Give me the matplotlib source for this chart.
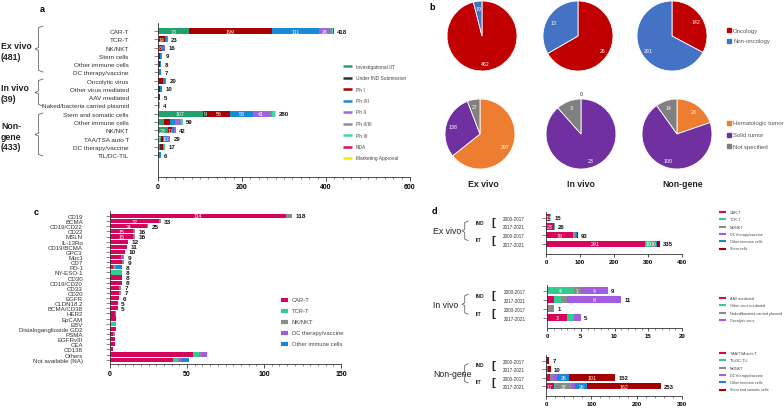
import matplotlib
matplotlib.use('Agg')
import matplotlib.pyplot as plt
from matplotlib.lines import Line2D
from matplotlib.ticker import MultipleLocator
import numpy as np

plt.rcParams['font.family'] = ['Liberation Sans', 'DejaVu Sans']

W, H = 784, 410

# ---------------- data: panel a (development stage by product type) ----------------
a_cats = ['CAR-T', 'TCR-T', 'NK/NKT', 'Stem cells', 'Other immune cells', 'DC therapy/vaccine',
          'Oncolytic virus', 'Other virus mediated', 'AAV mediated', 'Naked/bacteria carried plasmid',
          'Stem and somatic cells', 'Other immune cells', 'NK/NKT', 'TAA/TSA auto T',
          'DC therapy/vaccine', 'TIL/DC-TIL']
a_stages = ['Investigational IIT', 'Under IND Submission', 'Ph I', 'Ph I/II', 'Ph II',
            'Ph II/III', 'Ph III', 'NDA', 'Marketing Approval']
a_iit = [73, 2, 1, 0, 1, 0, 1, 0, 0, 0, 107, 14, 23, 7, 5, 1]
a_ind = [0, 0, 0, 0, 0, 0, 3, 2, 2, 0, 9, 0, 0, 0, 2, 2]
a_ph1 = [199, 14, 8, 4, 3, 3, 7, 3, 3, 0, 56, 14, 11, 6, 4, 0]
a_ph12 = [111, 6, 6, 4, 4, 4, 5, 4, 0, 0, 53, 13, 5, 10, 2, 3]
a_ph2 = [26, 1, 1, 1, 0, 0, 2, 1, 0, 0, 41, 11, 3, 6, 1, 0]
a_ph23 = [5, 0, 0, 0, 0, 0, 0, 0, 0, 0, 6, 3, 0, 0, 0, 0]
a_ph3 = [2, 0, 0, 0, 0, 0, 1, 0, 0, 4, 6, 4, 0, 0, 3, 0]
a_nda = [2, 0, 0, 0, 0, 0, 0, 0, 0, 0, 1, 0, 0, 0, 0, 0]
a_appr = [0, 0, 0, 0, 0, 0, 1, 0, 0, 0, 1, 0, 0, 0, 0, 0]
a_groups = ['Ex vivo\n(481)', 'In vivo\n(39)', 'Non-\ngene\n(433)']

# ---------------- data: panel b (pies) ----------------
onc_labels = ['Oncology', 'Non-oncology']
onc_ex = [462, 19]
onc_in = [26, 13]
onc_ng = [142, 291]
tum_labels = ['Hematologic tumor', 'Solid tumor', 'Not specified']
tum_ex = [297, 138, 27]
tum_in = [0, 23, 3]
tum_ng = [28, 100, 14]
pie_titles = ['Ex vivo', 'In vivo', 'Non-gene']

# ---------------- data: panel c (targets) ----------------
c_targets = ['CD19', 'BCMA', 'CD19/CD22', 'CD22', 'MSLN', 'IL-13Rα', 'CD19/BCMA', 'GPC3', 'Muc1',
             'CD7', 'PD-1', 'NY-ESO-1', 'CD30', 'CD19/CD20', 'CD33', 'CD20', 'EGFR', 'CLDN18.2',
             'BCMA/CD38', 'HER2', 'EpCAM', 'EBV', 'Disialoganglioside GD2', 'PSMA', 'EGFRvIII',
             'CEA', 'CD138', 'Others', 'Not available (NA)']
c_types = ['CAR-T', 'TCR-T', 'NK/NKT', 'DC therapy/vaccine', 'Other immune cells']
c_cart = [114, 32, 24, 15, 15, 12, 11, 10, 7, 8, 2, 0, 8, 8, 6, 6, 6, 5, 5, 3, 4, 0, 4, 2, 3, 3, 2, 54, 41]
c_tcrt = [0, 0, 0, 0, 0, 0, 0, 0, 0, 0, 0, 8, 0, 0, 0, 0, 0, 0, 0, 0, 0, 4, 0, 0, 0, 0, 0, 4, 3]
c_nk = [4, 1, 1, 1, 1, 0, 0, 0, 1, 1, 2, 0, 0, 0, 1, 1, 0, 0, 0, 0, 0, 0, 0, 1, 0, 0, 0, 2, 1]
c_dc = [0, 0, 0, 0, 0, 0, 0, 0, 1, 0, 0, 0, 0, 0, 0, 0, 0, 0, 0, 1, 0, 0, 0, 0, 0, 0, 0, 3, 2]
c_other = [0, 0, 0, 0, 0, 0, 0, 0, 0, 0, 4, 0, 0, 0, 0, 0, 0, 0, 0, 0, 0, 0, 0, 0, 0, 0, 0, 0, 4]
c_n_totals = 19  # rows that carry a total label

# ---------------- data: panel d (IND / IIT by period) ----------------
d_periods = ['2000-2017', '2017-2021', '2000-2017', '2017-2021']
ex_types = ['CAR-T', 'TCR-T', 'NK/NKT', 'DC therapy/vaccine', 'Other immune cells', 'Stem cells']
ex_cart = [13, 23, 79, 291]
ex_tcrt = [1, 3, 2, 19]
ex_nk = [0, 0, 5, 10]
ex_dc = [0, 0, 1, 2]
ex_other = [1, 0, 5, 5]
ex_stem = [0, 0, 1, 8]
iv_types = ['AAV mediated', 'Other virus mediated', 'Naked/bacteria carried plasmid', 'Oncolytic virus']
iv_aav = [0, 1, 0, 3]
iv_virus = [4, 1, 0, 1]
iv_naked = [1, 1, 1, 0]
iv_onco = [4, 8, 0, 1]
ng_types = ['TAA/TSA auto T', 'TIL/DC-TIL', 'NK/NKT', 'DC therapy/vaccine', 'Other immune cells',
            'Stem and somatic cells']
ng_taa = [1, 0, 8, 17]
ng_til = [0, 0, 1, 3]
ng_nk = [0, 0, 7, 37]
ng_dc = [1, 0, 9, 8]
ng_other = [0, 4, 26, 26]
ng_stem = [5, 6, 101, 162]

# colours
a_colors = ['#22a06e', '#333333', '#a60000', '#1a8ad4', '#a064e0', '#8c8c8c', '#3fd9a0', '#d1106b', '#f2ee00']
MAG, TEAL, GRAY, PURP, BLUE, DRED = '#d6045c', '#33cc8f', '#8a8a8a', '#a15ce0', '#1a86d4', '#a50000'
onc_colors = ['#c00000', '#4472c4']
tum_colors = ['#ed7d31', '#7030a0', '#808080']

fig = plt.figure(figsize=(W / 100, H / 100), dpi=100)


def px_box(x0, y0, x1, y1):
    return [x0 / W, 1 - y1 / H, (x1 - x0) / W, (y1 - y0) / H]


def fxy(x, y):
    return x / W, 1 - y / H


def stacked(ax, series, colors, height, inner, n_tot, tot_fs, in_fs):
    n = len(series[0])
    y = np.arange(n)
    left = np.zeros(n)
    for vals, c in zip(series, colors):
        vals = np.array(vals, float)
        ax.barh(y, vals, left=left, height=height, color=c, linewidth=0)
        for i, v in enumerate(vals):
            if v > 0 and inner(i, v):
                ax.text(left[i] + v / 2, i, str(int(v)), ha='center', va='center',
                        color='white', fontsize=in_fs)
        left += vals
    for i in range(n_tot):
        ax.annotate(str(int(left[i])), (left[i], i), xytext=(2.5, 0), textcoords='offset points',
                    ha='left', va='center', fontsize=tot_fs, fontweight='bold', color='#111')
    return left


def style(ax, labels, xmax, major, minor, pad, lab_fs, tick_fs, tick_len=3):
    ax.set_xlim(0, xmax)
    ax.set_yticks(np.arange(len(labels)))
    ax.set_yticklabels(labels)
    for s in ['top', 'right']:
        ax.spines[s].set_visible(False)
    for s in ['left', 'bottom']:
        ax.spines[s].set_linewidth(0.6)
        ax.spines[s].set_color('#333')
    ax.xaxis.set_major_locator(MultipleLocator(major))
    ax.xaxis.set_minor_locator(MultipleLocator(minor))
    ax.tick_params(axis='y', length=3, width=0.5, pad=pad, labelsize=lab_fs, labelcolor='#333', color='#555')
    ax.tick_params(axis='x', which='major', length=tick_len, width=0.6, labelsize=tick_fs, pad=1.2, color='#333')
    ax.tick_params(axis='x', which='minor', length=tick_len / 2, width=0.4, color='#333')
    for t in ax.get_xticklabels():
        t.set_fontweight('bold')


def brace(x, y0, y1, w, ym=None):
    if ym is None:
        ym = (y0 + y1) / 2
    xs = [x + w, x + w * 0.45, x + w * 0.45, x, x + w * 0.45, x + w * 0.45, x + w]
    ys = [y0, y0 + 1.5, ym - 1.5, ym, ym + 1.5, y1 - 1.5, y1]
    pts = [fxy(a, b) for a, b in zip(xs, ys)]
    fig.add_artist(Line2D([p[0] for p in pts], [p[1] for p in pts], transform=fig.transFigure,
                          color='#666', lw=0.6))


def legend_lines(x, y0, dy, labels, colors, fs, hw=9, lw=1.8, square=False):
    for k, (lab, c) in enumerate(zip(labels, colors)):
        y = y0 + k * dy
        if square:
            fig.add_artist(Line2D([fxy(x, y)[0]], [fxy(x, y)[1]], marker='s', ms=2.3, color=c,
                                  lw=0, transform=fig.transFigure))
            fig.text(*fxy(x + 4, y), lab, fontsize=fs, color='#555', va='center', ha='left')
        else:
            (xa, ya), (xb, _) = fxy(x, y), fxy(x + hw, y)
            fig.add_artist(Line2D([xa, xb], [ya, ya], color=c, lw=lw, transform=fig.transFigure,
                                  solid_capstyle='butt'))
            fig.text(*fxy(x + hw + 4, y), lab, fontsize=fs, color='#444', va='center', ha='left')


# ================= panel a =================
ax_a = fig.add_axes(px_box(158, 24, 410, 178))
a_series = [a_iit, a_ind, a_ph1, a_ph12, a_ph2, a_ph23, a_ph3, a_nda, a_appr]
a_inner_rows = {0, 1, 2, 10, 12, 13}
stacked(ax_a, a_series, a_colors, 0.72, lambda i, v: i in a_inner_rows and v >= 7,
        len(a_cats), 4.3, 3.8)
style(ax_a, a_cats, 600, 200, 20, 18, 4.6, 5)
ax_a.set_ylim(17.65, -0.97)
legend_lines(343, 67, 11.5, a_stages, a_colors, 3.5)
fig.text(*fxy(40, 10), 'a', fontsize=6.5, fontweight='bold', va='center')

for txt, y in zip(a_groups, [52, 94, 137]):
    fig.text(*fxy(1, y), txt, fontsize=6.3, fontweight='bold', va='center', ha='left',
             linespacing=1.25, color='#222')
brace(35, 27, 73, 8)
brace(35, 80, 107, 8)
brace(35, 114, 157, 8)

# ================= panel b =================
fig.text(*fxy(429, 8), 'b', fontsize=6.5, fontweight='bold', va='center')


def pie_at(cx, cy, r, vals, colors):
    ax = fig.add_axes(px_box(cx - r, cy - r, cx + r, cy + r))
    wedges, _ = ax.pie(vals, colors=colors, startangle=90, counterclock=False, radius=1,
                       wedgeprops=dict(edgecolor='white', linewidth=0.6))
    for w, v in zip(wedges, vals):
        ang = np.deg2rad((w.theta1 + w.theta2) / 2)
        if v == 0:
            ax.text(0, 1.16, '0', ha='center', va='center', fontsize=4, color='#333')
        else:
            ax.text(0.8 * np.cos(ang), 0.8 * np.sin(ang), str(v), ha='center', va='center',
                    fontsize=3.8, color='white')
    ax.set_xlim(-1, 1)
    ax.set_ylim(-1, 1)
    ax.axis('off')


for (cx, cy), vals in zip([(482, 37), (578, 37), (672, 37)], [onc_ex, onc_in, onc_ng]):
    pie_at(cx, cy, 35, vals, onc_colors)
for (cx, cy), vals in zip([(480, 135), (581, 135), (677, 135)], [tum_ex, tum_in, tum_ng]):
    pie_at(cx, cy, 35, vals, tum_colors)
for x, t in zip([483, 581, 683], pie_titles):
    fig.text(*fxy(x, 185), t, fontsize=6.3, fontweight='bold', ha='center', va='center', color='#222')
legend_lines(729, 31, 10.5, onc_labels, onc_colors, 4.3, square=True)
legend_lines(729, 124, 11.5, tum_labels, tum_colors, 4.3, square=True)

# ================= panel c =================
ax_c = fig.add_axes(px_box(110, 212, 341, 365))
c_colors = [MAG, TEAL, GRAY, PURP, BLUE]
stacked(ax_c, [c_cart, c_tcrt, c_nk, c_dc, c_other], c_colors, 0.82,
        lambda i, v: i < c_n_totals and v >= 15, c_n_totals, 4.6, 3.8)
style(ax_c, c_targets, 150, 50, 5, 16.5, 4.4, 5)
ax_c.set_ylim(28.85, -0.97)
fig.text(*fxy(34, 213), 'c', fontsize=6.5, fontweight='bold', va='center')
legend_lines(281, 301, 11, c_types, c_colors, 4.2, hw=7, lw=3)

# ================= panel d =================
fig.text(*fxy(432, 212), 'd', fontsize=6.5, fontweight='bold', va='center')
d_cols6 = [MAG, TEAL, GRAY, PURP, BLUE, DRED]
d_specs = [
    # box, xmax, major, minor, series, colors, inner rule, legend labels, legend y0, group label
    ((546, 213, 682, 255), 400, 100, 100, [ex_cart, ex_tcrt, ex_nk, ex_dc, ex_other, ex_stem], d_cols6,
     lambda i, v: v >= 10, ex_types, 213, 'Ex vivo'),
    ((547, 286, 682, 329), 20, 5, 1, [iv_aav, iv_virus, iv_naked, iv_onco], d_cols6[:4],
     lambda i, v: v >= 3 or (i == 0 and v == 1), iv_types, 299, 'In vivo'),
    ((546, 356, 682, 397), 300, 100, 20, [ng_taa, ng_til, ng_nk, ng_dc, ng_other, ng_stem], d_cols6,
     lambda i, v: v >= 17, ng_types, 354, 'Non-gene'),
]
for box, xmax, major, minor, series, cols, rule, labs, ly0, glab in d_specs:
    ax = fig.add_axes(px_box(*box))
    stacked(ax, series, cols, 0.75, rule, 4, 4.3, 3.8)
    style(ax, d_periods, xmax, major, minor, 12, 3.3, 4.3, tick_len=2.2)
    rows_px = (box[3] - box[1]) / 4.8
    ax.set_ylim(4.15, -0.65)
    legend_lines(719, ly0, 7.3, labs, cols, 2.7, hw=7, lw=1.5)
    y_top = box[1] + 0.65 * rows_px
    y_ind = y_top + 0.5 * rows_px
    y_iit = y_top + 2.5 * rows_px
    fig.text(*fxy(433, (y_ind + y_iit) / 2), glab, fontsize=6.3, ha='left', va='center', color='#222')
    brace(462, y_ind - 1, y_iit + 1, 6)
    for y, t in [(y_ind, 'IND'), (y_iit, 'IIT')]:
        fig.text(*fxy(476, y), t, fontsize=3.5, fontweight='bold', ha='left', va='center', color='#222')
        fig.text(*fxy(491, y), '[', fontsize=8, fontweight='bold', ha='left', va='center', color='#222')

fig.savefig('out.png', dpi=100)
